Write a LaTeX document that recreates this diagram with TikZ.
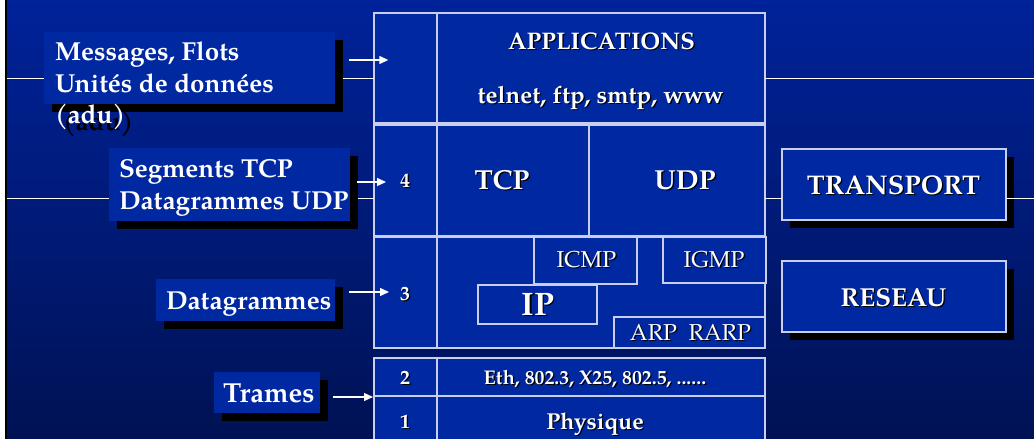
\documentclass[tikz,border=0pt]{standalone}
\usepackage{fontspec}
\setmainfont{texgyrepagella}[Extension=.otf, UprightFont=*-regular, BoldFont=*-bold, ItalicFont=*-italic, BoldItalicFont=*-bolditalic]
\usetikzlibrary{arrows.meta}

\definecolor{bgtop}{RGB}{0,34,154}
\definecolor{bgbot}{RGB}{0,18,84}
\definecolor{cellblue}{RGB}{0,40,160}
\definecolor{rim}{RGB}{200,206,236}

% white text with a small dark drop shadow
\newcommand\shadowtxt[4]{%
  \node[txt,font=#3,text=black,xshift=1.3pt,yshift=-1.3pt] at #1 {#4};
  \node[txt,font=#3] (#2) at #1 {#4};}
\newcommand\fsz[1]{\fontsize{#1}{#1}\selectfont}

\begin{document}
\begin{tikzpicture}[x=1pt,y=-1pt,
  txt/.style={text=white,inner sep=0pt,outer sep=0pt,anchor=base},
  ltxt/.style={text=white,inner sep=0pt,outer sep=0pt,anchor=base west},
  cell/.style={draw=rim,line width=1.3pt,fill=cellblue,inner sep=0pt,outer sep=0pt},
  tag/.style={fill=cellblue,inner sep=0pt,outer sep=0pt,
    preaction={fill=black,transform canvas={xshift=8pt,yshift=-8pt}}},
  layerbox/.style={cell,preaction={fill=black,transform canvas={xshift=8pt,yshift=-8pt}}},
  hline/.style={draw=white,line width=1pt},
  arr/.style={draw=white,line width=1.3pt,-{Triangle[length=9pt,width=8pt]}}]

\useasboundingbox (0,0) rectangle (1034,439);

% background
\shade[top color=bgtop,bottom color=bgbot] (0,0) rectangle (1034,439);
\fill[white] (0,0) rectangle (5,439);
\fill[black] (5,0) rectangle (7,439);

% end points of the long horizontal rules
\coordinate (w1) at (7,78);
\coordinate (w2) at (7,198);
\coordinate (e1) at (1034,78);
\coordinate (e2) at (1034,198);

% protocol stack
\node[cell,minimum width=63pt,minimum height=110pt] (appL) at (405.5,68) {};
\node[cell,minimum width=328pt,minimum height=110pt] (appR) at (601,68) {};
\node[cell,minimum width=63pt,minimum height=111pt] (r4L) at (405.5,180.5) {};
\node[cell,minimum width=152pt,minimum height=111pt] (tcp) at (513,180.5) {};
\node[cell,minimum width=176pt,minimum height=111pt] (udp) at (677,180.5) {};
\node[cell,minimum width=63pt,minimum height=111pt] (r3L) at (405.5,292.5) {};
\node[cell,minimum width=328pt,minimum height=111pt] (r3R) at (601,292.5) {};
\node[cell,minimum width=103pt,minimum height=47pt] (icmp) at (585.5,260.5) {};
\node[cell,minimum width=103pt,minimum height=46pt] (igmp) at (714.5,260) {};
\node[cell,minimum width=119pt,minimum height=39pt] (ip) at (537.5,304.5) {};
\node[cell,minimum width=151pt,minimum height=31pt] (arp) at (689.5,332.5) {};
\node[cell,minimum width=63pt,minimum height=38pt] (r2L) at (405.5,377) {};
\node[cell,minimum width=328pt,minimum height=38pt] (r2R) at (601,377) {};
\node[cell,minimum width=63pt,minimum height=50pt] (r1L) at (405.5,421) {};
\node[cell,minimum width=328pt,minimum height=50pt] (r1R) at (601,421) {};

% rules between the frame edges and the stack
\draw[hline] (w1) -- (w1 -| appL.west);
\draw[hline] (w2) -- (w2 -| r4L.west);
\draw[hline] (appR.east |- e1) -- (e1);

% stack texts
\shadowtxt{(601.5,49)}{tApp}{\fsz{24}\bfseries}{APPLICATIONS}
\shadowtxt{(600.5,103)}{tTel}{\fsz{24}\bfseries}{telnet, ftp, smtp, www}
\shadowtxt{(502,189)}{tTcp}{\fsz{27.5}\bfseries}{TCP}
\shadowtxt{(685,189)}{tUdp}{\fsz{27.5}\bfseries}{UDP}
\shadowtxt{(586.5,267)}{tIcmp}{\fsz{23}}{ICMP}
\shadowtxt{(714,267)}{tIgmp}{\fsz{23}}{IGMP}
\shadowtxt{(538,315)}{tIp}{\fsz{32.5}\bfseries}{IP}
\shadowtxt{(690.5,340)}{tArp}{\fsz{23}}{ARP\hspace{0.5em}RARP}
\shadowtxt{(595,384)}{tEth}{\fsz{19.8}\bfseries}{Eth, 802.3, X25, 802.5, ......}
\shadowtxt{(595,429)}{tPhy}{\fsz{23}\bfseries}{Physique}
\shadowtxt{(405,187)}{n4}{\fsz{20}\bfseries}{4}
\shadowtxt{(405,300)}{n3}{\fsz{20}\bfseries}{3}
\shadowtxt{(405,384)}{n2}{\fsz{20}\bfseries}{2}
\shadowtxt{(405,428)}{n1}{\fsz{20}\bfseries}{1}
\node[inner sep=0pt] (n5) at (405,60) {};

% OSI layer boxes on the right
\node[layerbox,minimum width=224pt,minimum height=71pt] (transport) at (894,184.5) {};
\node[layerbox,minimum width=224pt,minimum height=71pt] (reseau) at (894,296.5) {};
\draw[hline] (udp.east |- e2) -- (transport.west |- e2);
\draw[hline] (transport.east |- e2) -- (e2);
\shadowtxt{(893.5,194)}{tTr}{\fsz{27}\bfseries}{TRANSPORT}
\shadowtxt{(893.5,306)}{tRe}{\fsz{26}\bfseries}{RESEAU}

% shadows of the label texts (only visible where text leaves its box)
\begin{scope}[xshift=8pt,yshift=-7pt]
  \node[ltxt,text=black,font=\fsz{26}\bfseries] at (55,123) {(adu)};
  \node[ltxt,text=black,font=\fsz{26}\bfseries] at (119,209) {Datagrammes UDP};
\end{scope}

% data-unit labels on the left
\node[tag,minimum width=291pt,minimum height=72pt] (L1) at (189.5,68) {};
\node[tag,minimum width=241pt,minimum height=73pt] (L2) at (229.5,184.5) {};
\node[tag,minimum width=179pt,minimum height=42pt] (L3) at (245.5,300) {};
\node[tag,minimum width=106pt,minimum height=41pt] (L4) at (267,392.5) {};

\node[ltxt,font=\fsz{26}\bfseries] (L1a) at (55,60) {Messages, Flots};
\node[ltxt,font=\fsz{26}\bfseries] (L1b) at (55,92) {Unités de données};
\node[ltxt,font=\fsz{26}\bfseries] (L1c) at (55,123) {(adu)};
\node[ltxt,font=\fsz{26}\bfseries] (L2a) at (119,177) {Segments TCP};
\node[ltxt,font=\fsz{26}\bfseries] (L2b) at (119,209) {Datagrammes UDP};
\node[ltxt,font=\fsz{26}\bfseries] (L3a) at (166,309) {Datagrammes};
\node[ltxt,font=\fsz{27.5}\bfseries] (L4a) at (223,402) {Trames};

% arrows from labels to the layers
\coordinate (s1) at (349,60);
\coordinate (s2) at (357,182);
\coordinate (s3) at (349,292);
\coordinate (s4) at (333,397);
\draw[arr,shorten >=16pt] (s1) -- (s1 -| n5.west);
\draw[arr,shorten >=14pt] (s2) -- (s2 -| n4.west);
\draw[arr,shorten >=11pt] (s3) -- (s3 -| n3.west);
\draw[arr,shorten >=1pt] (s4) -- (s4 -| r2L.west);

\end{tikzpicture}
\end{document}
